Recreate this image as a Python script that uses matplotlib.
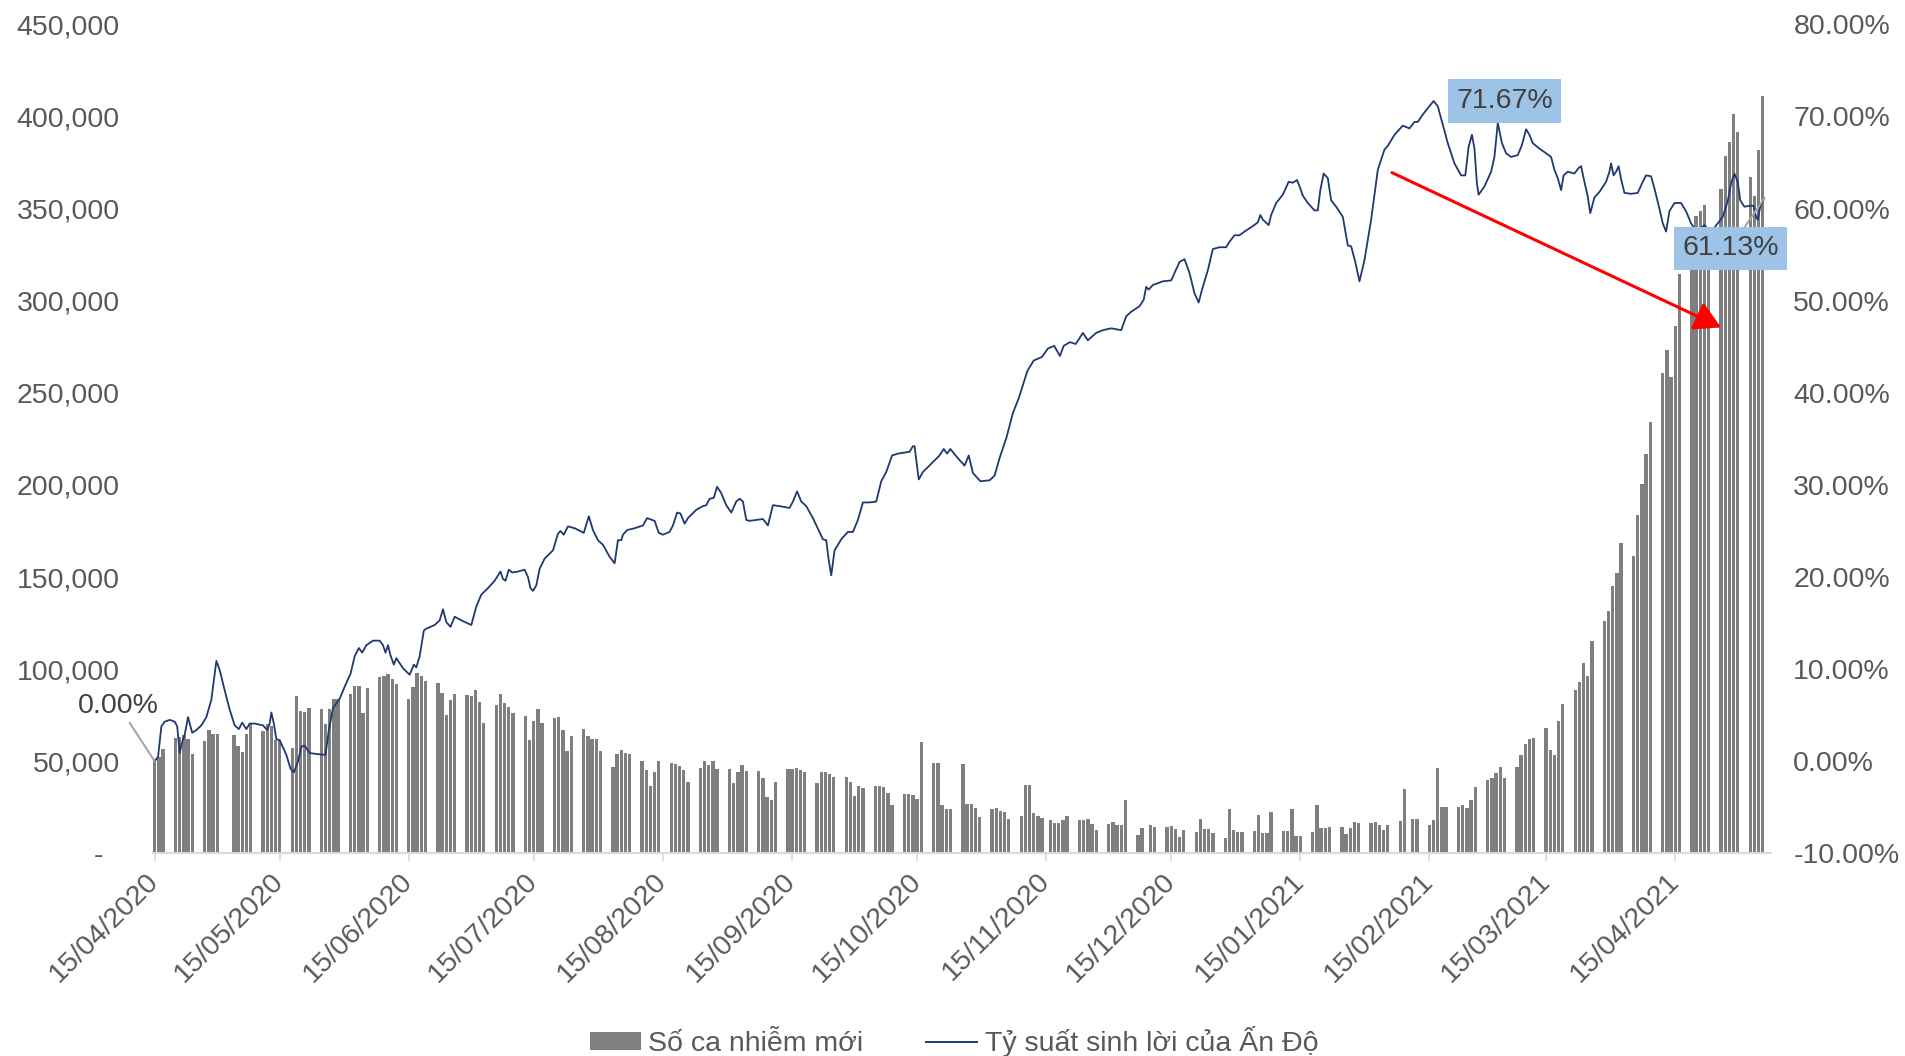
import numpy as np
import pandas as pd
import matplotlib
matplotlib.use("Agg")
import matplotlib.pyplot as plt
import matplotlib.dates as mdates
from matplotlib.ticker import FuncFormatter, FixedLocator
from matplotlib.patches import Patch
from matplotlib.lines import Line2D

plt.rcParams['font.family'] = ['Liberation Sans', 'DejaVu Sans']

START = pd.Timestamp('2020-04-15')

# ---------------------------------------------------------------------------
# New daily cases, one row per week (Mon..Fri); None = no session that day
WEEK0_MONDAY = pd.Timestamp('2020-04-13')
new_cases_weekly = [
    [None, None, 51000, 52500, 56500],
    [62700, 63400, 64500, 62300, 54000],
    [61000, 67000, 64900, 64900, None],
    [64300, 58100, 55300, 64900, 70100],
    [66500, 70100, 69400, 61600, 61600],
    [57400, 85700, 77300, 76600, 79000],
    [78600, 70100, 78600, 84000, 84000],
    [86500, 90900, 90900, 76100, 90000],
    [95800, 96500, 97600, 94500, 92200],
    [83800, 90200, 97800, 96400, 93400],
    [92600, 86900, 75200, 83300, 86400],
    [86000, 85500, 88700, 82200, 70600],
    [80500, 86700, 81500, 79700, 76100],
    [74600, 61500, 72100, 78500, 70600],
    [73400, 74300, 66900, 55400, 63600],
    [67800, 63600, 62100, 62000, 55800],
    [46900, 54200, 56200, 54500, 53800],
    [50200, 45300, 36600, 44000, 50000],
    [48900, 48600, 47500, 45300, 38600],
    [46600, 50200, 47900, 50400, 45700],
    [46000, 38400, 44200, 48000, 45000],
    [44800, 41200, 30500, 29200, 38800],
    [45700, 46000, 46400, 45300, 44200],
    [38100, 44400, 44400, 43100, 41300],
    [41700, 39000, 31400, 36400, 35500],
    [36600, 36600, 36100, 33000, 26500],
    [32100, 32100, 31600, 29400, 60300],
    [49300, 49300, 26300, 24200, 24200],
    [48400, 26700, 26700, 24500, 19600],
    [24000, 24900, 23200, 22500, 18900],
    [20200, 37000, 37000, 21800, 20400],
    [18400, 16700, 16600, 18200, 20600],
    [18400, 18400, 18700, 16200, 12800],
    [16000, 16900, 15600, 15300, 29000],
    [10000, 13900, None, 15300, 14600],
    [14500, 14900, 13500, 9100, 12900],
    [11900, 18900, 13300, 13300, 11300],
    [8600, 24000, 12600, 11900, 11900],
    [12200, 21000, 11000, 11000, 22300],
    [12200, 12200, 24000, 9300, 9300],
    [11700, 26200, 14000, 14000, 14400],
    [14200, 10600, 13900, 16900, 16700],
    [16600, 16900, 15600, 12600, 15200],
    [17600, 35200, None, 18700, 18700],
    [15500, 18200, 46200, 25100, 25100],
    [25300, 26300, 24500, 29000, 35900],
    [39700, 41000, 43900, 47100, 40800],
    [47100, 53500, 59200, 62300, 62700],
    [67900, 56200, 53500, 72000, 81200],
    [88600, 93100, 103300, 96400, 115200],
    [126300, 131600, 144900, 152400, 168400],
    [161500, 183700, 200300, 216900, 234100],
    [260700, 273100, 258400, 286100, 314400],
    [332700, 345700, 348500, 352100, 323100],
    [360400, 378400, 385900, 401100, 391400],
    [367000, 356800, 381700, 411300, None],
]
# Saturday special session (Diwali)
special_session_date = pd.Timestamp('2020-11-14')
special_session_cases = 19100

# ---------------------------------------------------------------------------
# Cumulative return of the Indian market since 15/04/2020 (%)
# return_day: days elapsed since 15/04/2020
return_day = [
    0, 0.8, 1.6, 2.4, 3.6, 4.8, 5.4, 6.0, 6.6, 7.2, 8.0, 8.4, 9.0, 10.0, 11.2,
    12.4, 13.6, 14.2, 14.8, 15.6, 16.8, 18.0, 19.2, 20.2, 21.0, 22.0, 22.8,
    24.0, 26.0, 27.0, 27.6, 28.0, 28.6, 29.2, 30.0, 31.6, 32.6, 33.4, 34.4,
    35.2, 36.0, 37.2, 38.8, 41.0, 41.8, 42.8, 44.4, 45.6, 47.0, 48.0, 49.0,
    49.8, 50.8, 52.4, 54.0, 54.8, 55.4, 56.0, 56.6, 57.4, 58.0, 59.6, 61.2,
    62.2, 62.8, 63.6, 64.6, 65.2, 67.2, 68.4, 69.2, 70.0, 71.0, 72.0, 73.6,
    76.0, 77.2, 78.4, 80.0, 81.6, 83.0, 83.6, 84.2, 85.0, 85.8, 87.2, 88.8,
    89.6, 90.2, 90.8, 91.6, 92.4, 93.6, 95.6, 96.8, 97.4, 98.2, 99.2, 100.8,
    103.0, 104.2, 105.2, 106.4, 107.6, 109.2, 110.4, 111.2, 112.0, 112.4,
    113.4, 115.2, 117.2, 118.2, 120.0, 121.0, 122.0, 123.6, 124.4, 125.4,
    126.2, 127.2, 128.0, 130.0, 131.6, 132.4, 133.2, 134.2, 135.0, 136.0,
    137.2, 138.4, 139.6, 140.4, 141.2, 142.0, 142.8, 144.4, 146.0, 147.2,
    148.4, 150.0, 152.4, 153.2, 154.2, 155.2, 156.4, 158.0, 160.4, 161.2,
    161.8, 162.4, 163.2, 164.8, 166.4, 167.6, 168.8, 170.0, 171.6, 173.2,
    174.4, 175.6, 177.0, 178.4, 181.2, 182.0, 182.4, 183.4, 184.4, 186.4,
    188.4, 189.4, 190.2, 191.0, 192.8, 194.4, 195.4, 196.4, 198.2, 200.4,
    201.6, 202.8, 204.5, 206.0, 207.4, 209.5, 211.0, 213.0, 214.4, 215.9,
    217.3, 218.2, 219.7, 221.1, 222.8, 224.0, 226.0, 227.6, 229.6, 232.0,
    233.2, 234.4, 236.4, 237.4, 238.0, 238.6, 239.6, 242.0, 244.0, 244.8,
    246.0, 247.2, 248.4, 249.6, 250.6, 251.4, 252.8, 254.0, 255.6, 257.2,
    258.0, 259.2, 260.4, 261.6, 263.6, 264.8, 265.4, 266.0, 267.4, 268.0,
    269.2, 270.8, 272.2, 273.2, 274.2, 275.0, 275.6, 276.8, 278.4, 279.2,
    279.8, 280.6, 281.6, 282.4, 283.6, 285.2, 286.4, 287.2, 288.2, 289.2,
    290.4, 292.0, 293.6, 295.2, 296.0, 297.6, 299.6, 301.2, 302.4, 303.2,
    304.4, 305.6, 307.0, 308.0, 309.2, 310.4, 312.0, 313.6, 314.6, 315.4,
    316.2, 316.8, 317.4, 317.8, 319.2, 320.8, 321.6, 322.4, 323.4, 324.4,
    325.6, 327.2, 328.2, 329.2, 330.0, 330.8, 332.4, 334.0, 335.2, 336.0,
    336.8, 337.6, 338.2, 339.2, 340.8, 341.8, 342.4, 343.0, 344.0, 344.6,
    345.6, 346.8, 348.4, 349.2, 349.6, 350.2, 350.8, 351.4, 352.0, 352.8,
    354.4, 356.0, 357.2, 358.0, 359.2, 360.0, 361.2, 362.0, 362.8, 363.6,
    364.8, 366.4, 367.6, 368.8, 369.8, 371.2, 372.0, 372.8, 374.0, 375.2,
    376.4, 377.6, 378.4, 379.2, 380.0, 380.6, 381.6, 382.8, 383.8, 384.4,
    384.8, 385.4, 386.4,
]
return_pct = [
    0.0, 0.5, 3.8, 4.3, 4.5, 4.3, 3.8, 0.9, 2.1, 2.9, 4.8, 4.1, 3.1, 3.4, 3.9,
    4.8, 6.7, 8.8, 10.9, 9.9, 7.7, 5.6, 3.9, 3.5, 4.2, 3.5, 4.1,
    4.1, 3.9, 3.4, 4.1, 5.3, 4.1, 2.4, 2.3, 0.7, -0.8, -1.2, 0.0,
    1.6, 1.7, 0.9, 0.8, 0.7, 3.4, 5.8, 6.8, 8.1, 9.5, 11.4, 12.3,
    11.8, 12.6, 13.1, 13.1, 12.6, 11.8, 12.6, 11.5, 10.5, 11.2, 10.1, 9.4,
    10.5, 10.2, 11.4, 14.2, 14.4, 14.8, 15.3, 16.5, 15.1, 14.6, 15.7, 15.3,
    14.8, 16.8, 18.1, 18.8, 19.6, 20.6, 19.8, 19.6, 20.8, 20.5, 20.6, 20.8,
    20.0, 18.8, 18.5, 19.1, 20.9, 22.0, 22.9, 24.7, 25.0, 24.6, 25.5, 25.3,
    24.8, 26.6, 25.1, 24.0, 23.5, 22.2, 21.5, 24.0, 24.0, 24.6,
    25.1, 25.3, 25.6, 26.4, 26.1, 24.8, 24.6, 24.9, 25.6, 27.0,
    26.9, 25.8, 26.4, 27.3, 27.7, 27.8, 28.5, 28.6, 29.8, 29.1,
    27.8, 27.0, 28.2, 28.5, 28.2, 26.2, 26.1, 26.2, 26.3, 25.6,
    27.8, 27.7, 27.5, 28.2, 29.3, 28.2, 27.7, 26.4, 24.1, 24.0,
    21.8, 20.2, 22.9, 24.1, 24.9, 24.9, 26.2, 28.1, 28.1, 28.2,
    30.4, 31.4, 33.2, 33.4, 33.6, 34.2, 34.2, 30.6, 31.4, 32.3,
    33.2, 33.9, 33.4, 33.9, 32.9, 32.1, 33.2, 31.3, 30.4, 30.5,
    31.0, 32.9, 35.2, 37.8, 39.4, 42.4, 43.5, 43.9, 44.8, 45.1,
    44.0, 45.1, 45.5, 45.3, 46.5, 45.7, 46.5, 46.8, 47.0, 46.8,
    48.3, 48.8, 49.4, 50.1, 51.5, 51.2, 51.7, 52.1, 52.2, 53.0,
    54.2, 54.5, 53.0, 50.8, 49.8, 51.2, 53.3, 55.6, 55.8, 55.8,
    56.4, 57.1, 57.1, 57.5, 58.1, 58.5, 59.3, 58.8, 58.2, 59.3,
    60.6, 61.5, 62.9, 62.8, 63.1, 62.2, 61.4, 60.6, 59.8, 59.8,
    62.0, 63.8, 63.3, 60.9, 60.2, 59.1, 56.0, 55.9, 54.2, 52.1,
    54.4, 58.8, 64.2, 66.4, 66.8, 68.0, 69.0, 68.7, 69.4, 69.4,
    70.2, 70.9, 71.67, 71.1, 69.1, 67.1, 64.9, 63.6, 63.6, 66.7,
    68.0, 66.5, 62.7, 61.5, 62.4, 64.0, 65.6, 69.3, 67.1, 66.0,
    65.6, 65.8, 66.9, 68.6, 68.0, 67.1, 66.5, 66.0, 65.6, 64.2,
    63.3, 62.0, 63.6, 64.0, 63.8, 64.4, 64.6, 63.3, 61.3, 59.5,
    61.2, 61.8, 62.9, 64.0, 64.9, 63.6, 64.0, 64.6, 63.2, 61.7,
    61.6, 61.7, 62.9, 63.6, 63.5, 62.2, 60.0, 58.4, 57.5, 59.7,
    60.6, 60.6, 59.7, 58.4, 57.7, 57.9, 58.2, 57.8, 57.7, 58.4,
    59.1, 60.8, 62.7, 63.8, 62.9, 60.9, 60.2, 60.3, 60.3, 59.1,
    58.8, 60.2, 61.13,
]

# month ticks on the 15th, 15/04/2020 .. 15/04/2021
tick_dates = pd.date_range('2020-04-01', '2021-04-01', freq='MS') + pd.Timedelta(days=14)
case_ticks = list(range(0, 450001, 50000))
pct_ticks = list(range(-10, 81, 10))

bar_label = 'Số ca nhiễm mới'
line_label = 'Tỷ suất sinh lời của Ấn Độ'

# ---------------------------------------------------------------------------
BAR_COLOR = '#7F7F7F'
LINE_COLOR = '#1F3A6E'
TEXT_COLOR = '#595959'
LABEL_COLOR = '#404040'
BOX_COLOR = '#9DC3E6'
FS = 20.5

# assemble the bar series
bar_dates, bar_values = [], []
for w, week in enumerate(new_cases_weekly):
    for k, v in enumerate(week):
        if v is not None:
            bar_dates.append(WEEK0_MONDAY + pd.Timedelta(days=7 * w + k))
            bar_values.append(v)
bar_dates.append(special_session_date)
bar_values.append(special_session_cases)
bar_x = mdates.date2num(pd.DatetimeIndex(bar_dates))

line_x = mdates.date2num(START) + np.array(return_day)
line_y = np.array(return_pct)

fig = plt.figure(figsize=(19.06, 10.56), dpi=100)
ax = fig.add_axes([0.0803, 0.1918, 0.8489, 0.7852])
ax2 = ax.twinx()

ax.bar(bar_x, bar_values, width=0.8, color=BAR_COLOR, zorder=2)
ax2.plot(line_x, line_y, color=LINE_COLOR, lw=1.3, zorder=3,
         solid_joinstyle='round', solid_capstyle='round')

x0 = mdates.date2num(START)
ax.set_xlim(x0 - 0.4, x0 + 388)
ax.set_ylim(0, 450000)
ax2.set_ylim(-10, 80)

for a in (ax, ax2):
    for s in a.spines.values():
        s.set_visible(False)
ax.spines['bottom'].set_visible(True)
ax.spines['bottom'].set_color('#D9D9D9')
ax.spines['bottom'].set_linewidth(1.5)

ax.xaxis.set_major_locator(FixedLocator(mdates.date2num(tick_dates)))
ax.xaxis.set_major_formatter(FuncFormatter(lambda v, p: mdates.num2date(v).strftime('%d/%m/%Y')))
ax.tick_params(axis='x', direction='out', length=6, width=1.2, color='#D9D9D9',
               labelsize=FS, labelcolor=TEXT_COLOR, pad=11)
for lbl in ax.get_xticklabels():
    lbl.set_rotation(45)
    lbl.set_ha('right')
    lbl.set_va('center')
    lbl.set_rotation_mode('anchor')

ax.yaxis.set_major_locator(FixedLocator(case_ticks))
ax.yaxis.set_major_formatter(FuncFormatter(lambda v, p: '-  ' if v == 0 else f'{v:,.0f}'))
ax.tick_params(axis='y', length=0, labelsize=FS, labelcolor=TEXT_COLOR, pad=24)

ax2.yaxis.set_major_locator(FixedLocator(pct_ticks))
ax2.yaxis.set_major_formatter(FuncFormatter(lambda v, p: f'{v:.2f}%'))
ax2.tick_params(axis='y', length=0, labelsize=FS, labelcolor=TEXT_COLOR, pad=16)

# value call-outs
ax2.annotate('0.00%', xy=(line_x[0], line_y[0]), xytext=(-26, 40), textcoords='offset points',
             ha='center', va='center', fontsize=FS, color=LABEL_COLOR,
             arrowprops=dict(arrowstyle='-', color='#A6A6A6', lw=1.5, shrinkA=1, shrinkB=0),
             zorder=5)
peak = int(np.argmax(line_y))
ax2.annotate(f'{line_y[peak]:.2f}%', xy=(line_x[peak], line_y[peak]), xytext=(51, 0),
             textcoords='offset points', ha='center', va='center', fontsize=FS,
             color=LABEL_COLOR, zorder=5,
             bbox=dict(boxstyle='square,pad=0.3', fc=BOX_COLOR, ec='none'))
ax2.annotate(f'{line_y[-1]:.2f}%', xy=(line_x[-1], line_y[-1]), xytext=(-24.5, -36),
             textcoords='offset points', ha='center', va='center', fontsize=FS,
             color=LABEL_COLOR, zorder=5,
             bbox=dict(boxstyle='square,pad=0.3', fc=BOX_COLOR, ec='none'),
             arrowprops=dict(arrowstyle='-', color='#A6A6A6', lw=1.5, shrinkA=0, shrinkB=0))

# trend arrow from the February peak to the late-April level
ax2.annotate('', xy=(mdates.date2num(pd.Timestamp('2021-04-26')), 47.1),
             xytext=(mdates.date2num(pd.Timestamp('2021-02-06')), 63.9),
             arrowprops=dict(arrowstyle='-|>,head_length=0.8,head_width=0.45', color='#FF0000',
                             lw=2.2, mutation_scale=20, shrinkA=0, shrinkB=0),
             zorder=6)

handles = [Patch(facecolor=BAR_COLOR, edgecolor='none'),
           Line2D([0], [0], color=LINE_COLOR, lw=1.4)]
fig.legend(handles, [bar_label, line_label], loc='center', bbox_to_anchor=(0.5006, 0.0133),
           ncol=2, frameon=False, fontsize=FS, handlelength=1.8, handleheight=0.6,
           handletextpad=0.25, columnspacing=2.2, labelcolor=TEXT_COLOR)

fig.savefig('out.png', dpi=100)
